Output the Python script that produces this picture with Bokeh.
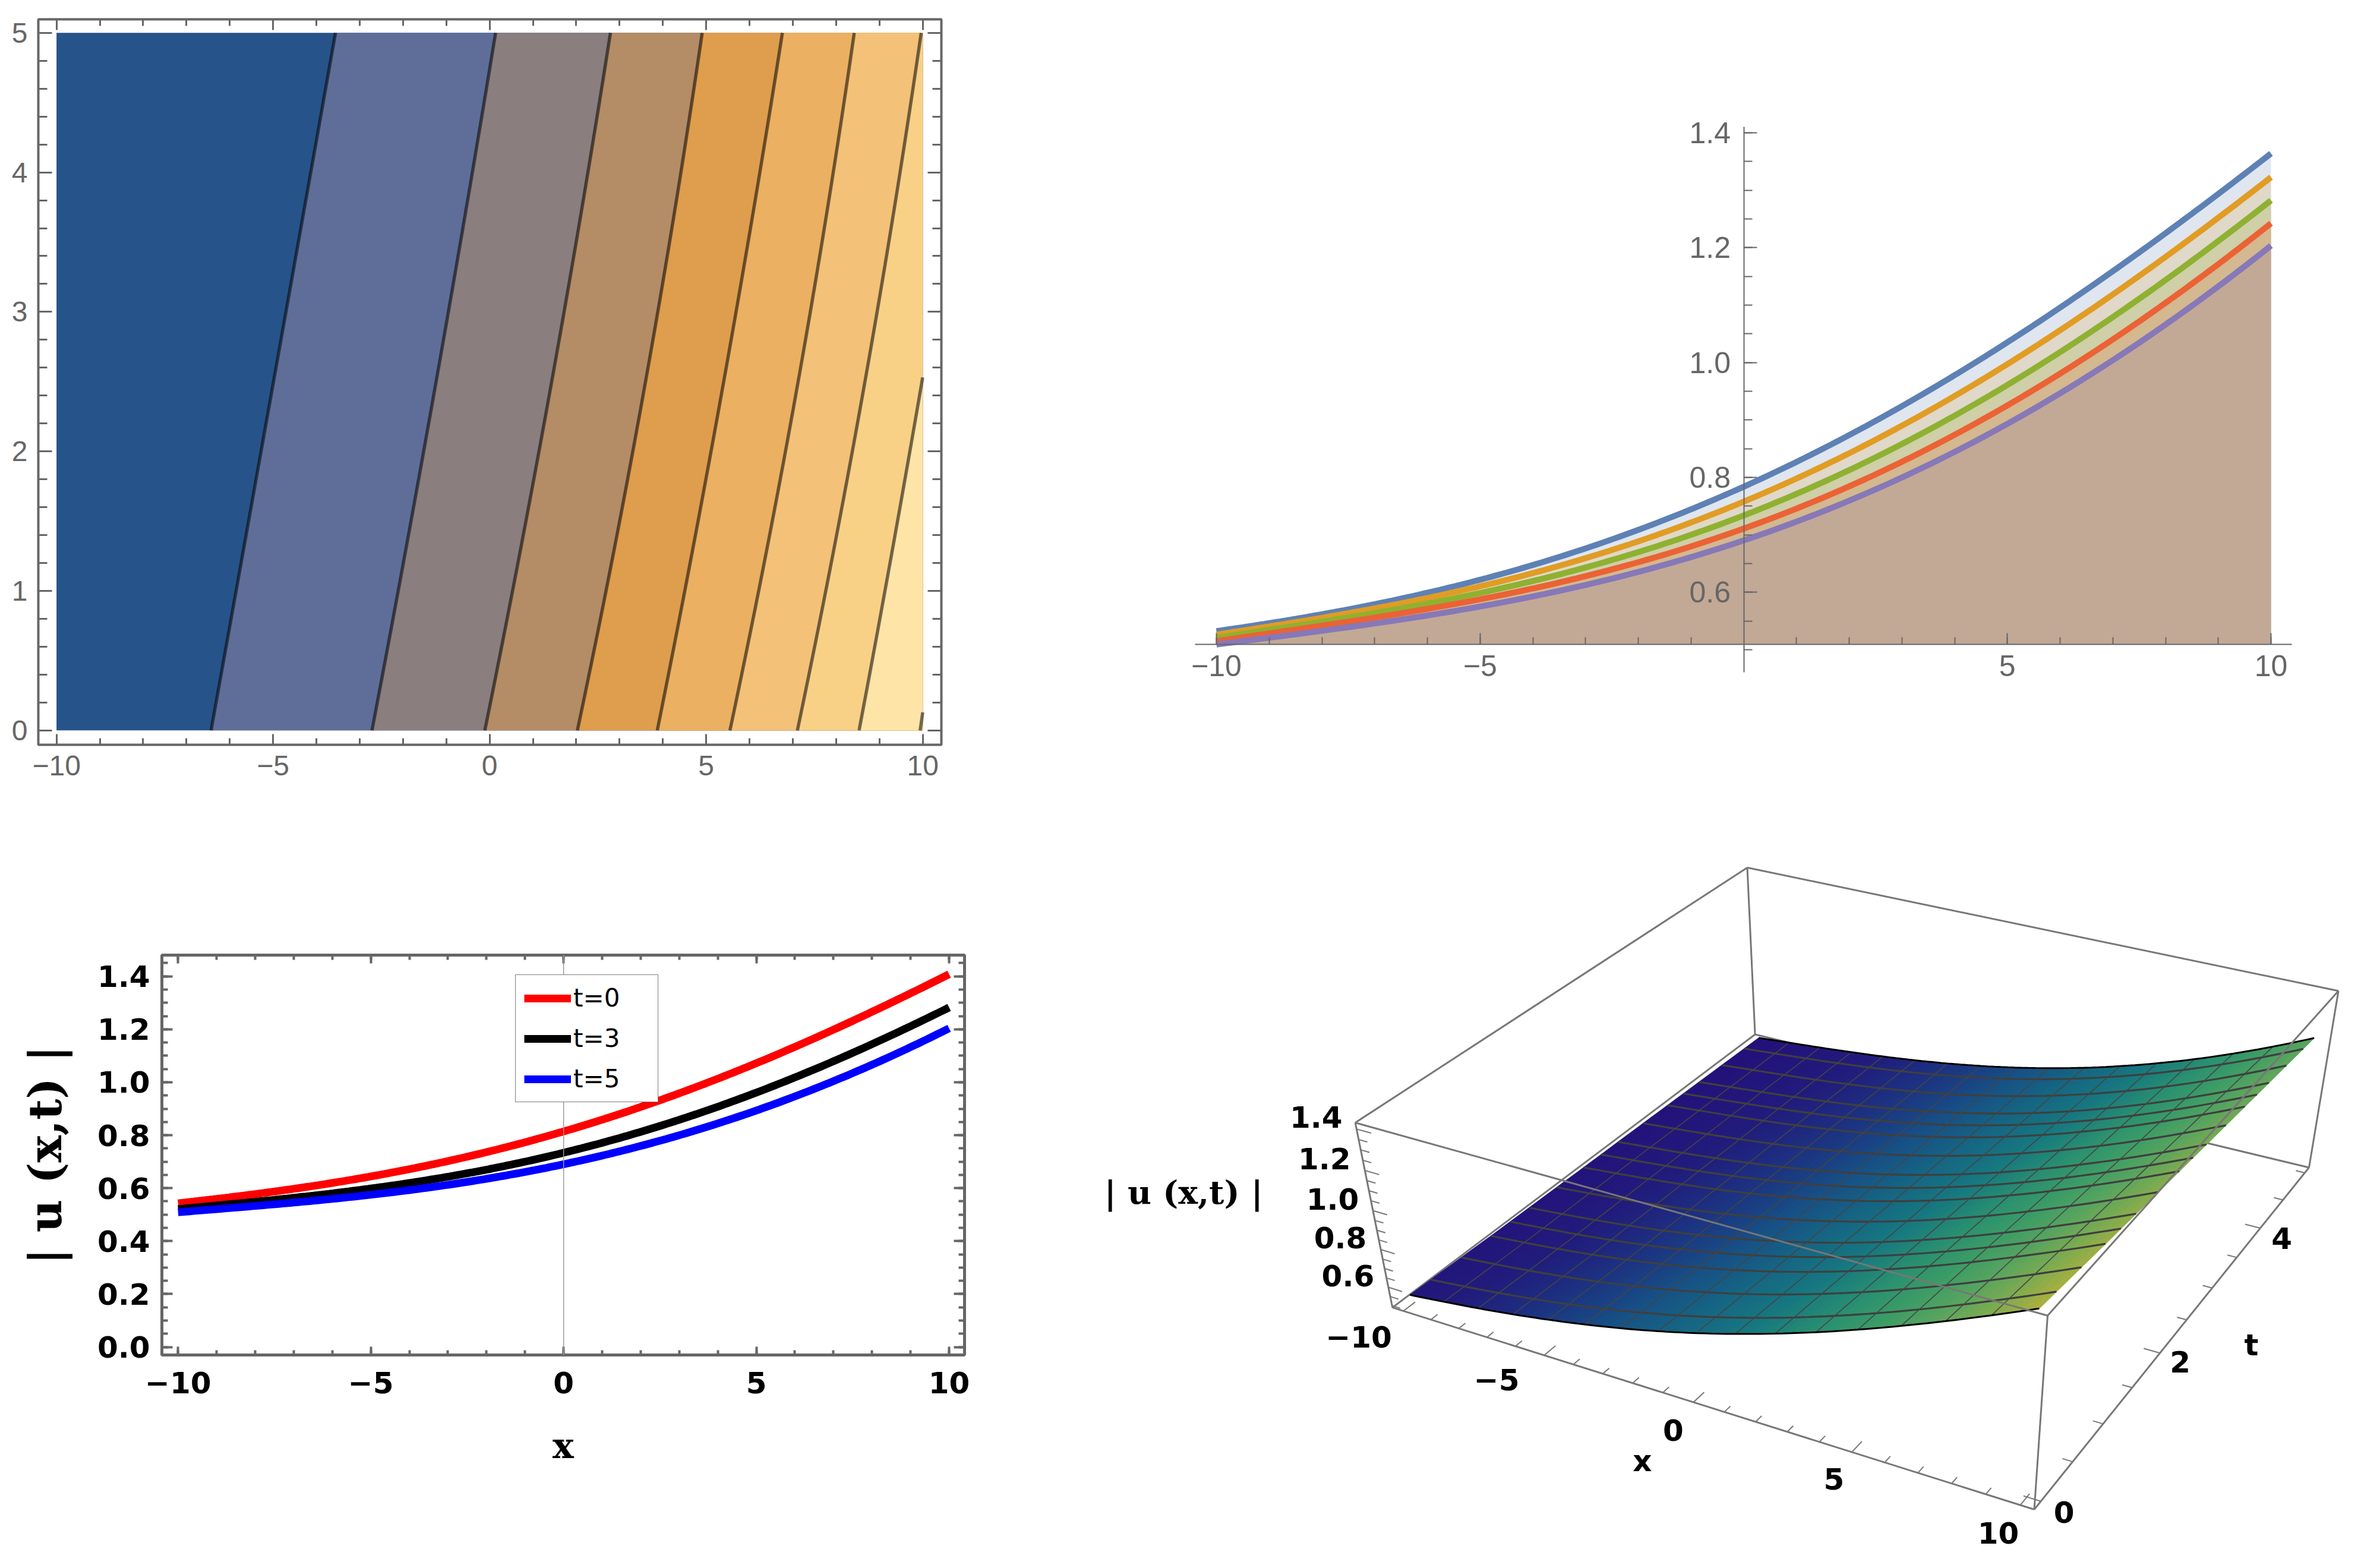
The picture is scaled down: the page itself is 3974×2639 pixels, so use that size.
import numpy as np
from bokeh.core.properties import value
from bokeh.embed import file_html
from bokeh.layouts import column, row
from bokeh.models import FixedTicker, Legend, LegendItem, LinearAxis, Range1d, Span
from bokeh.plotting import figure
from bokeh.resources import INLINE

# ---------- data ----------
X_MAJOR = [-10, -5, 0, 5, 10]
X_MINOR = list(range(-10, 11))

# Panel A: contour lines, x position at each t
CONTOUR_T = [0, 1, 2, 3, 4, 5]
contour_1 = [-6.43, -5.85, -5.29, -4.69, -4.13, -3.56]
contour_2 = [-2.71, -2.12, -1.52, -0.96, -0.38, 0.13]
contour_3 = [-0.11, 0.53, 1.14, 1.72, 2.27, 2.79]
contour_4 = [2.03, 2.68, 3.31, 3.89, 4.41, 4.91]
contour_5 = [3.87, 4.51, 5.11, 5.69, 6.24, 6.76]
contour_6 = [5.55, 6.21, 6.83, 7.41, 7.93, 8.42]
contour_7 = [7.10, 7.77, 8.38, 8.94, 9.47, 9.97]
contour_8_x = [8.53, 9.13, 9.70, 10.0]
contour_8_t = [0, 1, 2, 2.53]
contour_9_x = [9.94, 10.0]
contour_9_t = [0, 0.13]
BAND_COLORS = ["#26548A", "#5F6E99", "#8A7E7E", "#B48C66", "#DF9D4E",
               "#EBB061", "#F3C177", "#F8D187", "#FEE4A6"]
A_Y_MAJOR = [0, 1, 2, 3, 4, 5]
A_Y_MINOR = [round(i * 0.2, 1) for i in range(26)]

# Curves |u(x,t)| at these x
CURVE_X = [-10, -7.5, -5, -2.5, 0, 2.5, 5, 7.5, 10]
u_t0 = [0.542, 0.589, 0.646, 0.714, 0.814, 0.936, 1.072, 1.229, 1.409]
u_t1 = [0.533, 0.568, 0.624, 0.693, 0.781, 0.900, 1.035, 1.192, 1.364]
u_t2 = [0.527, 0.561, 0.612, 0.675, 0.757, 0.865, 0.996, 1.153, 1.322]
u_t3 = [0.522, 0.553, 0.600, 0.658, 0.735, 0.832, 0.959, 1.115, 1.281]
u_t4 = [0.516, 0.546, 0.588, 0.642, 0.714, 0.800, 0.924, 1.076, 1.241]
u_t5 = [0.510, 0.537, 0.575, 0.625, 0.695, 0.773, 0.892, 1.039, 1.202]

B_COLORS = ["#5E81B5", "#E19C24", "#8FB131", "#EB6235", "#8778B7"]
B_FILLS = ["#DFE6EF", "#E0D8C9", "#CFCFA8", "#D3B890", "#C2A996"]
B_Y_MAJOR = [0.6, 0.8, 1.0, 1.2, 1.4]
B_Y_MINOR = [round(0.5 + i * 0.05, 2) for i in range(19)]
B_X_MAJOR = [-10, -5, 5, 10]
B_X_MINOR = [v for v in X_MINOR if v != 0]

C_Y_MAJOR = [0.0, 0.2, 0.4, 0.6, 0.8, 1.0, 1.2, 1.4]
C_Y_MINOR = [round(i * 0.05, 2) for i in range(30)]
LEGEND_LABELS = ["t=0", "t=3", "t=5"]
C_COLORS = ["#FF0000", "#000000", "#0000FF"]

# Panel D
SURFACE_T = [0, 1, 2, 3, 4, 5]
D_T_MAJOR = [0, 2, 4]
D_T_MINOR = [round(i * 0.5, 1) for i in range(11)]
D_Z_MAJOR = [0.6, 0.8, 1.0, 1.2, 1.4]
D_Z_MINOR = [round(0.5 + i * 0.05, 2) for i in range(19)]
Z_STOPS = [0.51, 0.57, 0.62, 0.70, 0.78, 0.88, 1.00, 1.10, 1.20, 1.30, 1.41]
Z_COLORS = ["#24107A", "#211C7C", "#1D3080", "#175085", "#166583", "#167880",
            "#2A9070", "#3C9C66", "#57A45F", "#7CAB50", "#AEB03C"]
Y_LABEL = "| u (x,t) |"

# ---------- page layout (reference pixels) ----------
PAGE_L, PAGE_T, COL, ROW_H, W2, H2 = 0, 0, 1760, 1400, 3966, 2631
GRAY = "#666666"
SANS = "Liberation Sans"
BOLD = "DejaVu Sans"


def plain_axis(p, side, major, minor, maj_len, min_len, width, color=GRAY):
    ax = LinearAxis(
        ticker=FixedTicker(ticks=major, minor_ticks=minor),
        major_label_overrides={v: "" for v in major},
        axis_line_color=None,
        major_tick_line_color=color, minor_tick_line_color=color,
        major_tick_line_width=width, minor_tick_line_width=width,
        major_tick_in=maj_len, major_tick_out=0, minor_tick_in=min_len, minor_tick_out=0,
        major_label_standoff=0, major_label_text_font_size="1px",
    )
    p.add_layout(ax, side)


def label_axis(ax, major, minor, labels, maj_len, min_len, width, font, size, color, standoff, style="normal"):
    ax.ticker = FixedTicker(ticks=major, minor_ticks=minor)
    ax.major_label_overrides = dict(zip(major, labels))
    ax.axis_line_color = None
    ax.major_tick_line_color = GRAY
    ax.minor_tick_line_color = GRAY
    ax.major_tick_line_width = width
    ax.minor_tick_line_width = width
    ax.major_tick_in = maj_len
    ax.major_tick_out = 0
    ax.minor_tick_in = min_len
    ax.minor_tick_out = 0
    ax.major_label_text_font = font
    ax.major_label_text_font_size = f"{size}px"
    ax.major_label_text_font_style = style
    ax.major_label_text_color = color
    ax.major_label_standoff = standoff


def txt(v):
    return f"{v}".replace("-", "\u2212")


def smooth(xs, ys, n=200, deg=4):
    dense = np.linspace(xs[0], xs[-1], n)
    return dense, np.polyval(np.polyfit(xs, ys, deg), dense)


# ---------- panel A ----------
a = figure(width=COL - PAGE_L, height=ROW_H - PAGE_T, output_backend="svg", toolbar_location=None,
           x_range=Range1d(-10.42, 10.43), y_range=Range1d(-0.103, 5.097),
           min_border_left=64 - PAGE_L, min_border_right=COL - 1584,
           min_border_top=32 - PAGE_T, min_border_bottom=ROW_H - 1253,
           outline_line_color=GRAY, outline_line_width=4, frame_align=False)
a.grid.visible = False
contours = []
for cx_, ct_ in [(c_, CONTOUR_T) for c_ in (contour_1, contour_2, contour_3, contour_4, contour_5, contour_6, contour_7)] + [(contour_8_x, contour_8_t)]:
    dense_ct, dense_cx = smooth(ct_, cx_, n=40, deg=2)
    contours.append((list(dense_cx), list(dense_ct)))
contours.append((contour_9_x, contour_9_t))
a.patch([-10, 10, 10, -10], [0, 0, 5, 5], fill_color=BAND_COLORS[0], line_color=None)
for (cx, ct), col in zip(contours, BAND_COLORS[1:]):
    reaches_top = ct[-1] == 5
    a.patch(list(np.minimum(cx, 10)) + ([10, 10] if reaches_top else [10]),
            list(ct) + ([5, 0] if reaches_top else [0]),
            fill_color=col, line_color=None)
for cx, ct in contours:
    a.line(list(np.minimum(cx, 10)), ct, line_color="#000000", line_alpha=0.55, line_width=5.5)
label_axis(a.xaxis[0], X_MAJOR, X_MINOR, [txt(v) for v in X_MAJOR], 18, 11, 3, SANS, 48, GRAY, 18)
label_axis(a.yaxis[0], A_Y_MAJOR, A_Y_MINOR, [str(v) for v in A_Y_MAJOR], 23, 15, 3, SANS, 48, GRAY, 18)
plain_axis(a, "above", X_MAJOR, X_MINOR, 18, 11, 3)
plain_axis(a, "right", A_Y_MAJOR, A_Y_MINOR, 23, 15, 3)

# ---------- panel B ----------
BX = lambda px: (px - 2934.5) / 88.75
BY = lambda py: 0.6 + (996.3 - py) / 966.5
b = figure(width=W2 - COL, height=ROW_H - PAGE_T, output_backend="svg", toolbar_location=None,
           x_range=Range1d(BX(1990), BX(3880)), y_range=Range1d(BY(1165), BY(200)),
           min_border_left=1990 - COL, min_border_right=W2 - 3880,
           min_border_top=200 - PAGE_T, min_border_bottom=ROW_H - 1165,
           outline_line_color=None, frame_align=False)
b.grid.visible = False
AXIS_Y = BY(1084)
series_b = [u_t1, u_t2, u_t3, u_t4, u_t5]
for ser, fill in zip(series_b, B_FILLS):
    xd, yd = smooth(CURVE_X, ser)
    b.varea(xd, [AXIS_Y] * len(xd), yd, fill_color=fill)
for ser, col in zip(series_b, B_COLORS):
    xd, yd = smooth(CURVE_X, ser)
    b.line(xd, yd, line_color=col, line_width=10)
bx, by = b.xaxis[0], b.yaxis[0]
label_axis(bx, B_X_MAJOR, B_X_MINOR, [txt(v) for v in B_X_MAJOR], 19, 12, 2, SANS, 50, GRAY, 18)
label_axis(by, B_Y_MAJOR, B_Y_MINOR, [f"{v:.1f}" for v in B_Y_MAJOR], 22, 14, 2, SANS, 50, GRAY, 22)
bx.fixed_location = AXIS_Y
by.fixed_location = 0
for ax, bnds in ((bx, (BX(2011), BX(3857))), (by, (BY(1131), BY(213)))):
    ax.axis_line_color = GRAY
    ax.axis_line_width = 2
    ax.bounds = bnds

# ---------- panel C ----------
c = figure(width=COL - PAGE_L, height=H2 - ROW_H, output_backend="svg", toolbar_location=None,
           x_range=Range1d(-10.42, 10.40), y_range=Range1d(-0.03, 1.48),
           min_border_left=272 - PAGE_L, min_border_right=COL - 1623,
           min_border_top=1607 - ROW_H, min_border_bottom=H2 - 2280,
           outline_line_color=GRAY, outline_line_width=5, frame_align=False)
c.grid.visible = False
c.add_layout(Span(location=0, dimension="height", line_color="#999999", line_width=1.5))
rs = []
for ser, col in zip([u_t0, u_t3, u_t5], C_COLORS):
    xd, yd = smooth(CURVE_X, ser)
    rs.append(c.line(xd, yd, line_color=col, line_width=13))
cx_axis, cy_axis = c.xaxis[0], c.yaxis[0]
label_axis(cx_axis, X_MAJOR, X_MINOR, [txt(v) for v in X_MAJOR], 14, 8, 4, BOLD, 50, "#000000", 28, "bold")
label_axis(cy_axis, C_Y_MAJOR, C_Y_MINOR, [f"{v:.1f}" for v in C_Y_MAJOR], 18, 10, 4, BOLD, 50, "#000000", 20, "bold")
plain_axis(c, "above", X_MAJOR, X_MINOR, 14, 8, 4)
plain_axis(c, "right", C_Y_MAJOR, C_Y_MINOR, 18, 10, 4)
for ax, lab, so, fs in ((cx_axis, "x", 50, 60), (cy_axis, Y_LABEL, 40, 76)):
    ax.axis_label = lab
    ax.axis_label_text_font = "DejaVu Serif"
    ax.axis_label_text_font_style = "bold"
    ax.axis_label_text_font_size = f"{fs}px"
    ax.axis_label_text_color = "#000000"
    ax.axis_label_standoff = so
leg = Legend(items=[LegendItem(label=l, renderers=[r]) for l, r in zip(LEGEND_LABELS, rs)],
             location=(867 - 272, 2280 - 1855), glyph_width=79, glyph_height=48, spacing=19,
             padding=14, margin=0, label_standoff=4, label_width=128, label_height=48,
             label_text_font="DejaVu Sans", label_text_font_size="42px", label_text_color="#000000",
             label_text_baseline="middle", border_line_color="#000000", border_line_width=1.5,
             background_fill_color="#FFFFFF", background_fill_alpha=1)
c.add_layout(leg, "center")

# ---------- panel D ----------
XB, TB, ZB = (-10.4, 10.4), (-0.1, 5.1), (0.49, 1.43)
# view calibration: where the eight box corners fall on the page (x-, t-, z- bits)
VIEW = {
    (0, 0, 0): (2343.5, 2201), (1, 0, 0): (3422, 2540), (1, 1, 0): (3887, 1962), (0, 1, 0): (2953.6, 1742),
    (0, 0, 1): (2281, 1887), (1, 0, 1): (3447, 2215), (1, 1, 1): (3935, 1669), (0, 1, 1): (2940, 1459),
}
rows = []
for (i, j, k), (sx, sy) in VIEW.items():
    P = [float(i), float(j), float(k), 1.0]
    sx, sy = sx / 1000.0, sy / 1000.0
    rows.append(P + [0, 0, 0, 0] + [-sx * q for q in P])
    rows.append([0, 0, 0, 0] + P + [-sy * q for q in P])
CAM = np.linalg.svd(np.array(rows, float))[2][-1].reshape(3, 4)


def project(x, t, z):
    x, t, z = np.broadcast_arrays(np.asarray(x, float), np.asarray(t, float), np.asarray(z, float))
    u = (x.ravel() - XB[0]) / (XB[1] - XB[0])
    v = (t.ravel() - TB[0]) / (TB[1] - TB[0])
    w = (z.ravel() - ZB[0]) / (ZB[1] - ZB[0])
    h = CAM @ np.stack([u, v, w, np.ones(u.size)])
    return (1000 * h[0] / h[2]).reshape(x.shape), (1000 * h[1] / h[2]).reshape(x.shape)


d = figure(width=W2 - COL, height=H2 - ROW_H, output_backend="svg", toolbar_location=None,
           x_range=Range1d(COL, W2), y_range=Range1d(H2, ROW_H), min_border=0,
           outline_line_color=None, x_axis_location=None, y_axis_location=None, frame_align=False)
d.grid.visible = False

BOX = "#777777"


def box_edges(edges, width=3):
    xs, ys = [], []
    for p0, p1 in edges:
        px, py = project([XB[p0[0]], XB[p1[0]]], [TB[p0[1]], TB[p1[1]]], [ZB[p0[2]], ZB[p1[2]]])
        xs.append(list(px))
        ys.append(list(py))
    d.multi_line(xs, ys, line_color=BOX, line_width=width)


box_edges([((0, 1, 0), (0, 0, 0)), ((0, 1, 0), (1, 1, 0)), ((0, 1, 0), (0, 1, 1)),
           ((0, 1, 1), (0, 0, 1)), ((0, 1, 1), (1, 1, 1)), ((1, 1, 0), (1, 1, 1))])

rows_z = [u_t0, u_t1, u_t2, u_t3, u_t4, u_t5]
dense_x = np.linspace(-10, 10, 81)
table = np.array([smooth(CURVE_X, r, n=81)[1] for r in rows_z])
dense_t = np.linspace(0, 5, 41)
Zg = np.array([np.interp(dense_t, SURFACE_T, table[:, i]) for i in range(len(dense_x))]).T
Xg, Tg = np.meshgrid(dense_x, dense_t)
Sx, Sy = project(Xg, Tg, Zg)
stops_rgb = np.array([[int(h[i:i + 2], 16) for i in (1, 3, 5)] for h in Z_COLORS], float)


def z_color(z):
    return "#%02x%02x%02x" % tuple(int(round(np.interp(z, Z_STOPS, stops_rgb[:, i]))) for i in range(3))


qx, qy, qc = [], [], []
for i in range(len(dense_t) - 1):
    for j in range(len(dense_x) - 1):
        qx.append([Sx[i, j], Sx[i, j + 1], Sx[i + 1, j + 1], Sx[i + 1, j]])
        qy.append([Sy[i, j], Sy[i, j + 1], Sy[i + 1, j + 1], Sy[i + 1, j]])
        qc.append(z_color(Zg[i:i + 2, j:j + 2].mean()))
d.patches(qx, qy, fill_color=qc, line_color=qc, line_width=1.2)

# mesh lines: 15 interior lines each way
MESH = 16
tl_x, tl_y = [], []
for m in range(1, MESH):
    i = int(round(m * (len(dense_t) - 1) / MESH))
    tl_x.append(list(Sx[i])); tl_y.append(list(Sy[i]))
d.multi_line(tl_x, tl_y, line_color="#3F3F3F", line_width=3.2)
xl_x, xl_y = [], []
for m in range(1, MESH):
    j = int(round(m * (len(dense_x) - 1) / MESH))
    xl_x.append(list(Sx[:, j])); xl_y.append(list(Sy[:, j]))
d.multi_line(xl_x, xl_y, line_color="#454545", line_width=1.6)
d.multi_line([list(Sx[0]), list(Sx[-1])], [list(Sy[0]), list(Sy[-1])], line_color="#000000", line_width=3)

box_edges([((0, 0, 0), (1, 0, 0)), ((1, 0, 0), (1, 1, 0)), ((0, 0, 0), (0, 0, 1)), ((1, 0, 0), (1, 0, 1)),
           ((0, 0, 1), (1, 0, 1)), ((1, 0, 1), (1, 1, 1))])

# 3D axis ticks
t0, z0, x0, x1 = TB[0], ZB[0], XB[0], XB[1]
tick_x, tick_y = [], []
for v in X_MINOR:
    L = 0.14 if v in X_MAJOR else 0.08
    px, py = project([v, v], [t0, t0 + L], [z0, z0])
    tick_x.append(list(px)); tick_y.append(list(py))
for v in D_T_MINOR:
    L = 0.5 if v in D_T_MAJOR else 0.3
    px, py = project([x1, x1 - L], [v, v], [z0, z0])
    tick_x.append(list(px)); tick_y.append(list(py))
for v in D_Z_MINOR:
    L = 0.5 if v in D_Z_MAJOR else 0.3
    px, py = project([x0, x0 + L], [t0, t0], [v, v])
    tick_x.append(list(px)); tick_y.append(list(py))
d.multi_line(tick_x, tick_y, line_color=BOX, line_width=2)


def d_text(px, py, labels, size=50, font=BOLD, angle=0):
    d.text(list(px), list(py), text=labels, text_font=value(font), text_font_style="bold",
           text_font_size=f"{size}px", text_color="#000000", text_align="center", text_baseline="middle",
           angle=angle)


X_LABEL_OFF = [(-75, 44), (-80, 41), (-34, 47), (-30, 45), (-37, 47)]
T_LABEL_OFF = [(39, 18), (34, 15), (36, 17)]
Z_LABEL_OFF = (-68, -20)
px, py = project(X_MAJOR, [t0] * 5, [z0] * 5)
d_text(px + np.array([o[0] for o in X_LABEL_OFF]), py + np.array([o[1] for o in X_LABEL_OFF]), [txt(v) for v in X_MAJOR])
px, py = project([x1] * 3, D_T_MAJOR, [z0] * 3)
d_text(px + np.array([o[0] for o in T_LABEL_OFF]), py + np.array([o[1] for o in T_LABEL_OFF]), [str(v) for v in D_T_MAJOR])
px, py = project([x0] * 5, [t0] * 5, D_Z_MAJOR)
d_text(px + Z_LABEL_OFF[0], py + Z_LABEL_OFF[1], [f"{v:.1f}" for v in D_Z_MAJOR])
px, py = project([0], [t0], [z0])
d_text(px - 86, py + 99, ["x"])
px, py = project([x1], [2.5], [z0])
d_text(px + 109, py + 43, ["t"])
px, py = project([x0], [t0], [0.95])
d_text(px - 322, py - 48, [Y_LABEL], size=55, font="DejaVu Serif")

page = column(row(a, b, spacing=0), row(c, d, spacing=0), spacing=0)
open("out.html", "w").write(file_html(page, INLINE))
